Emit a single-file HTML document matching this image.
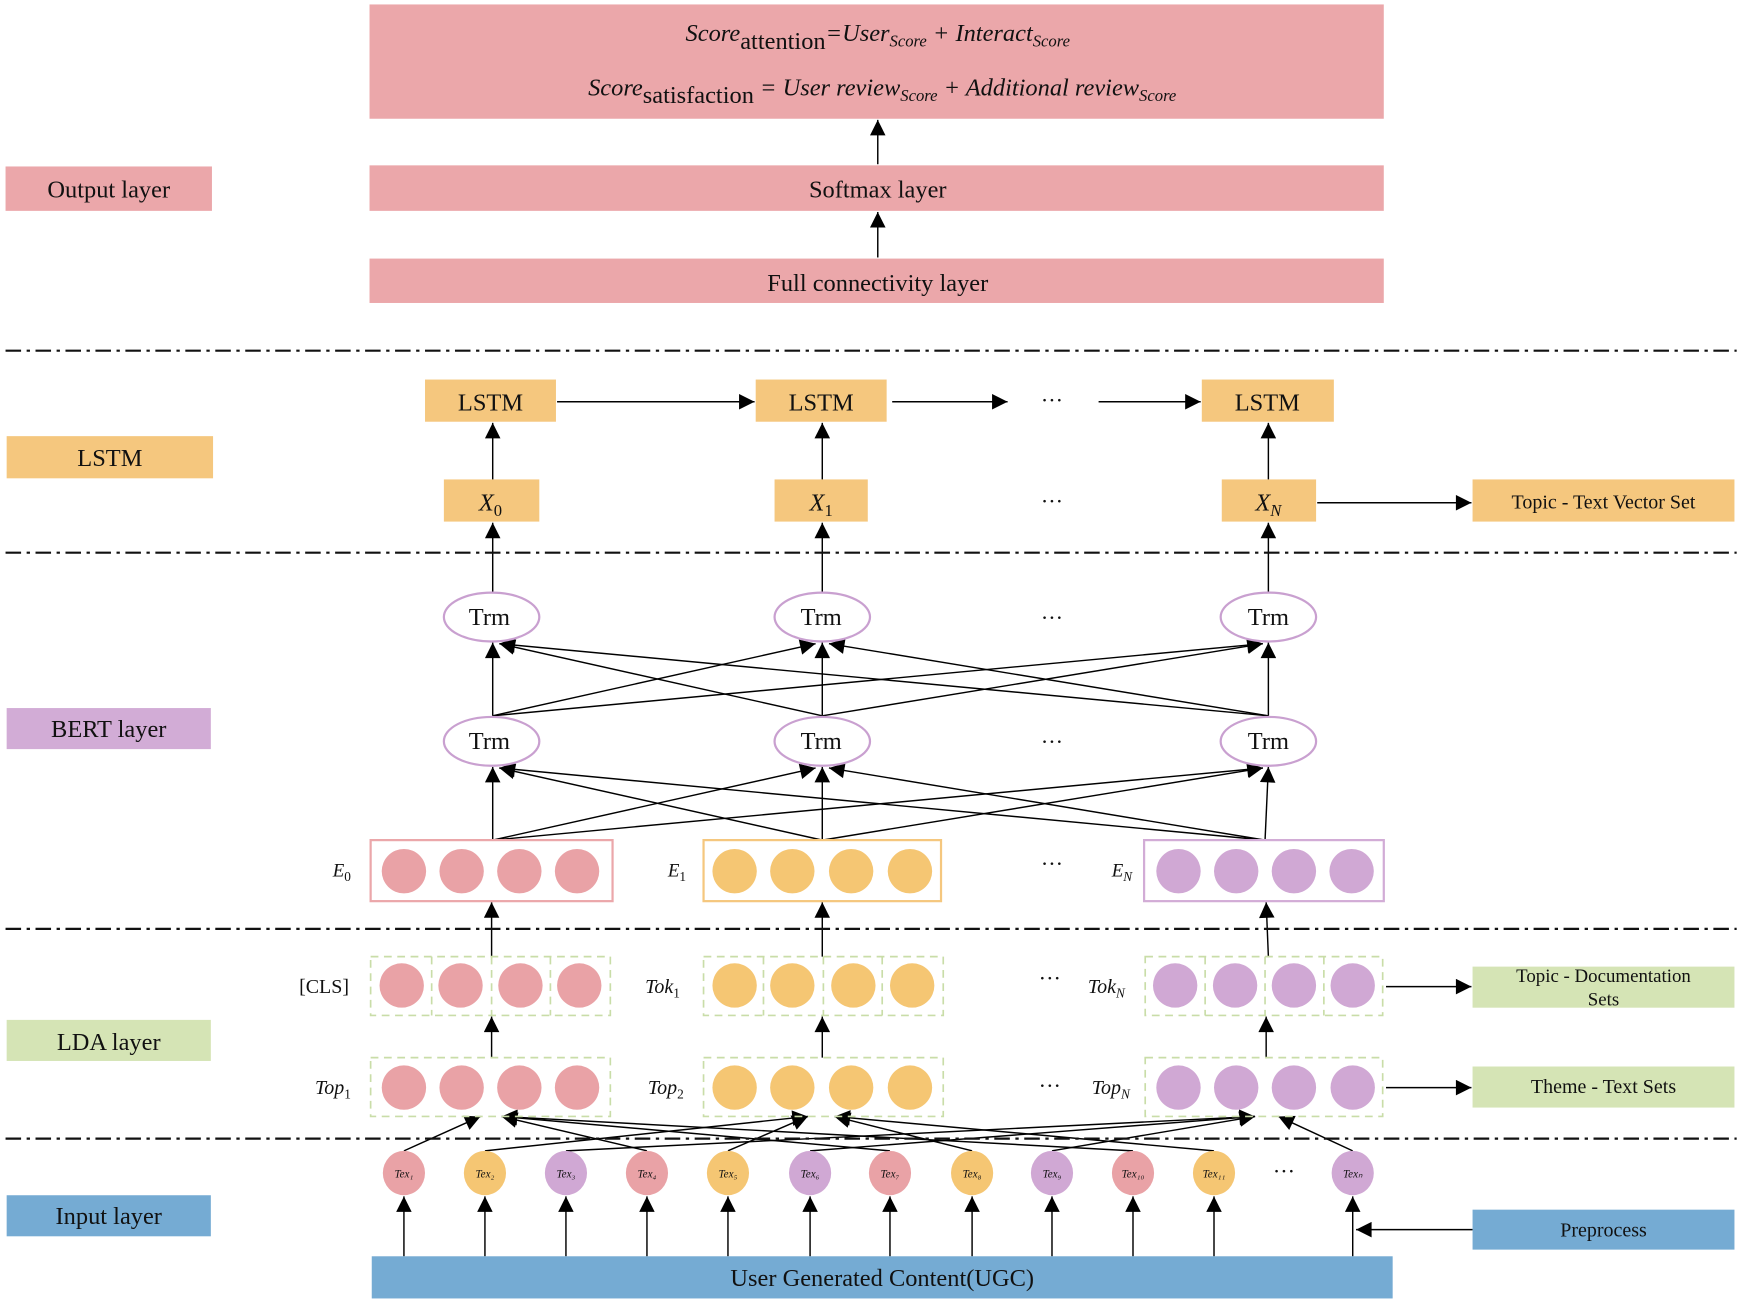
<!DOCTYPE html>
<html><head><meta charset="utf-8"><style>
html,body{margin:0;padding:0;background:#fff;}
svg{display:block;}
text{font-family:"Liberation Serif",serif;fill:#111;}
</style></head><body>
<svg width="1740" height="1304" viewBox="0 0 1568 1175" preserveAspectRatio="none" xmlns="http://www.w3.org/2000/svg">
<defs>
<marker id="a" viewBox="0 0 10 10" refX="10" refY="5" markerWidth="7" markerHeight="7" markerUnits="userSpaceOnUse" orient="auto"><path d="M0,0 L10,5 L0,10 z" fill="#000"/></marker>
<marker id="b" viewBox="0 0 10 10" refX="10" refY="5" markerWidth="18" markerHeight="14" markerUnits="userSpaceOnUse" orient="auto"><path d="M0,0 L10,5 L0,10 z" fill="#000"/></marker>
</defs>
<g stroke="#000" stroke-width="1.3" fill="none" marker-end="url(#b)">
<!-- output arrows -->
<line x1="791" y1="148" x2="791" y2="108"/>
<line x1="791" y1="232" x2="791" y2="191"/>
<!-- LSTM horizontal -->
<line x1="502" y1="362" x2="680" y2="362"/>
<line x1="804" y1="362" x2="908" y2="362"/>
<line x1="990" y1="362" x2="1082" y2="362"/>
<line x1="444" y1="432" x2="444" y2="381"/>
<line x1="741" y1="432" x2="741" y2="381"/>
<line x1="1143" y1="432" x2="1143" y2="381"/>
<line x1="1187" y1="453" x2="1326" y2="453"/>
<line x1="444" y1="534" x2="444" y2="471"/>
<line x1="741" y1="534" x2="741" y2="471"/>
<line x1="1143" y1="534" x2="1143" y2="471"/>
<!-- Trm cross row 1 -->
<line x1="444" y1="645" x2="444" y2="579"/>
<line x1="444" y1="645" x2="735" y2="580"/>
<line x1="444" y1="645" x2="1138" y2="580"/>
<line x1="741" y1="645" x2="741" y2="579"/>
<line x1="741" y1="645" x2="450" y2="580"/>
<line x1="741" y1="645" x2="1138" y2="580"/>
<line x1="1143" y1="645" x2="1143" y2="579"/>
<line x1="1143" y1="645" x2="450" y2="580"/>
<line x1="1143" y1="645" x2="747" y2="580"/>
<!-- E to Trm row 2 -->
<line x1="444" y1="757" x2="444" y2="691"/>
<line x1="444" y1="757" x2="735" y2="692"/>
<line x1="444" y1="757" x2="1138" y2="692"/>
<line x1="741" y1="757" x2="741" y2="691"/>
<line x1="741" y1="757" x2="450" y2="692"/>
<line x1="741" y1="757" x2="1138" y2="692"/>
<line x1="1140" y1="757" x2="1143" y2="691"/>
<line x1="1140" y1="757" x2="450" y2="692"/>
<line x1="1140" y1="757" x2="747" y2="692"/>
<!-- Tok to E -->
<line x1="443" y1="862" x2="443" y2="813"/>
<line x1="741" y1="862" x2="741" y2="813"/>
<line x1="1143" y1="862" x2="1141" y2="813"/>
<line x1="1249" y1="889" x2="1326" y2="889"/>
<line x1="443" y1="953" x2="443" y2="916"/>
<line x1="741" y1="953" x2="741" y2="916"/>
<line x1="1141" y1="953" x2="1141" y2="916"/>
<line x1="1249" y1="980" x2="1326" y2="980"/>
<!-- Tex to Top -->
<line x1="364" y1="1037" x2="433" y2="1006"/>
<line x1="437" y1="1037" x2="728" y2="1006"/>
<line x1="510" y1="1037" x2="1131" y2="1006"/>
<line x1="583" y1="1037" x2="452" y2="1006"/>
<line x1="656" y1="1037" x2="728" y2="1006"/>
<line x1="730" y1="1037" x2="1131" y2="1006"/>
<line x1="802" y1="1037" x2="452" y2="1006"/>
<line x1="876" y1="1037" x2="752" y2="1006"/>
<line x1="948" y1="1037" x2="1131" y2="1006"/>
<line x1="1021" y1="1037" x2="452" y2="1006"/>
<line x1="1094" y1="1037" x2="752" y2="1006"/>
<line x1="1219" y1="1037" x2="1152" y2="1006"/>
<!-- UGC to Tex -->
<line x1="364" y1="1132" x2="364" y2="1078"/>
<line x1="437" y1="1132" x2="437" y2="1078"/>
<line x1="510" y1="1132" x2="510" y2="1078"/>
<line x1="583" y1="1132" x2="583" y2="1078"/>
<line x1="656" y1="1132" x2="656" y2="1078"/>
<line x1="730" y1="1132" x2="730" y2="1078"/>
<line x1="802" y1="1132" x2="802" y2="1078"/>
<line x1="876" y1="1132" x2="876" y2="1078"/>
<line x1="948" y1="1132" x2="948" y2="1078"/>
<line x1="1021" y1="1132" x2="1021" y2="1078"/>
<line x1="1094" y1="1132" x2="1094" y2="1078"/>
<line x1="1219" y1="1132" x2="1219" y2="1078"/>
<line x1="1327" y1="1108" x2="1222" y2="1108"/>
</g>
<!-- dash-dot lines -->
<g stroke="#111" stroke-width="2" stroke-dasharray="14,5,3,5">
<line x1="5" y1="316" x2="1565" y2="316"/>
<line x1="5" y1="498" x2="1565" y2="498"/>
<line x1="5" y1="837" x2="1565" y2="837"/>
<line x1="5" y1="1026" x2="1565" y2="1026"/>
</g>
<!-- output boxes -->
<rect x="333" y="4" width="914" height="103" fill="#EBA7AA"/>
<rect x="333" y="149" width="914" height="41" fill="#EBA7AA"/>
<rect x="333" y="233" width="914" height="40" fill="#EBA7AA"/>
<text x="791" y="37" text-anchor="middle" font-size="22" font-style="italic">Score<tspan font-style="normal" dy="7">attention</tspan><tspan dy="-7">=User</tspan><tspan font-size="15" dy="5">Score</tspan><tspan dy="-5"> + Interact</tspan><tspan font-size="15" dy="5">Score</tspan></text>
<text x="795" y="86" text-anchor="middle" font-size="22" font-style="italic">Score<tspan font-style="normal" dy="7">satisfaction</tspan><tspan dy="-7"> = User review</tspan><tspan font-size="15" dy="5">Score</tspan><tspan dy="-5"> + Additional review</tspan><tspan font-size="15" dy="5">Score</tspan></text>
<text x="791" y="178" text-anchor="middle" font-size="22">Softmax layer</text>
<text x="791" y="262" text-anchor="middle" font-size="22">Full connectivity layer</text>
<!-- side labels -->
<rect x="5" y="150" width="186" height="40" fill="#EBA7AA"/><text x="98" y="178" text-anchor="middle" font-size="22">Output layer</text>
<rect x="6" y="393" width="186" height="38" fill="#F5C77E"/><text x="99" y="420" text-anchor="middle" font-size="22">LSTM</text>
<rect x="6" y="638" width="184" height="37" fill="#D2ACD6"/><text x="98" y="664" text-anchor="middle" font-size="22">BERT layer</text>
<rect x="6" y="919" width="184" height="37" fill="#D5E4B5"/><text x="98" y="946" text-anchor="middle" font-size="22">LDA layer</text>
<rect x="6" y="1077" width="184" height="37" fill="#75ABD3"/><text x="98" y="1103" text-anchor="middle" font-size="22">Input layer</text>
<!-- LSTM boxes -->
<g fill="#F5C77E">
<rect x="383" y="342" width="118" height="38"/><rect x="681" y="342" width="118" height="38"/><rect x="1083" y="342" width="119" height="38"/>
<rect x="400" y="432" width="86" height="38"/><rect x="698" y="432" width="84" height="38"/><rect x="1101" y="432" width="85" height="38"/>
</g>
<text x="442" y="370" text-anchor="middle" font-size="22">LSTM</text>
<text x="740" y="370" text-anchor="middle" font-size="22">LSTM</text>
<text x="1142" y="370" text-anchor="middle" font-size="22">LSTM</text>
<text x="948" y="367" text-anchor="middle" font-size="20">···</text>
<text x="442" y="460" text-anchor="middle" font-size="22" font-style="italic">X<tspan font-size="15" dy="5" font-style="normal">0</tspan></text>
<text x="740" y="460" text-anchor="middle" font-size="22" font-style="italic">X<tspan font-size="15" dy="5" font-style="normal">1</tspan></text>
<text x="1143" y="460" text-anchor="middle" font-size="22" font-style="italic">X<tspan font-size="15" dy="5">N</tspan></text>
<text x="948" y="458" text-anchor="middle" font-size="20">···</text>
<rect x="1327" y="432" width="236" height="38" fill="#F5C77E"/>
<text x="1445" y="458" text-anchor="middle" font-size="18">Topic - Text Vector Set</text>
<!-- Trm -->
<g fill="#fff" stroke="#C9A0D0" stroke-width="2">
<ellipse cx="443" cy="556" rx="43" ry="22"/><ellipse cx="741" cy="556" rx="43" ry="22"/><ellipse cx="1143" cy="556" rx="43" ry="22"/>
<ellipse cx="443" cy="668" rx="43" ry="22"/><ellipse cx="741" cy="668" rx="43" ry="22"/><ellipse cx="1143" cy="668" rx="43" ry="22"/>
</g>
<g font-size="22" text-anchor="middle">
<text x="441" y="563">Trm</text><text x="740" y="563">Trm</text><text x="1143" y="563">Trm</text>
<text x="441" y="675">Trm</text><text x="740" y="675">Trm</text><text x="1143" y="675">Trm</text>
<text x="948" y="563" font-size="20">···</text><text x="948" y="675" font-size="20">···</text>
<text x="948" y="785" font-size="20">···</text>
</g>
<!-- E boxes -->
<rect x="334" y="757" width="218" height="55" fill="#fff" stroke="#EBA7AA" stroke-width="2"/>
<rect x="634" y="757" width="214" height="55" fill="#fff" stroke="#F5C77E" stroke-width="2"/>
<rect x="1031" y="757" width="216" height="55" fill="#fff" stroke="#D2ACD6" stroke-width="2"/>
<g>
<g fill="#E9A2A6"><circle cx="364" cy="785" r="20"/><circle cx="416" cy="785" r="20"/><circle cx="468" cy="785" r="20"/><circle cx="520" cy="785" r="20"/></g>
<g fill="#F5C673"><circle cx="662" cy="785" r="20"/><circle cx="714" cy="785" r="20"/><circle cx="767" cy="785" r="20"/><circle cx="820" cy="785" r="20"/></g>
<g fill="#D0A8D4"><circle cx="1062" cy="785" r="20"/><circle cx="1114" cy="785" r="20"/><circle cx="1166" cy="785" r="20"/><circle cx="1218" cy="785" r="20"/></g>
</g>
<g font-size="17" font-style="italic" text-anchor="middle">
<text x="308" y="790">E<tspan font-size="12" dy="4" font-style="normal">0</tspan></text>
<text x="610" y="790">E<tspan font-size="12" dy="4" font-style="normal">1</tspan></text>
<text x="1011" y="790">E<tspan font-size="12" dy="4">N</tspan></text>
</g>
<!-- Tok and Top rows -->
<g fill="none" stroke="#C9DDA8" stroke-width="1.5" stroke-dasharray="7,5">
<rect x="334" y="862" width="216" height="53"/><rect x="634" y="862" width="216" height="53"/><rect x="1032" y="862" width="214" height="53"/>
<line x1="389" y1="862" x2="389" y2="915"/><line x1="443" y1="862" x2="443" y2="915"/><line x1="496" y1="862" x2="496" y2="915"/>
<line x1="688" y1="862" x2="688" y2="915"/><line x1="742" y1="862" x2="742" y2="915"/><line x1="795" y1="862" x2="795" y2="915"/>
<line x1="1086" y1="862" x2="1086" y2="915"/><line x1="1140" y1="862" x2="1140" y2="915"/><line x1="1193" y1="862" x2="1193" y2="915"/>
<rect x="334" y="953" width="216" height="53"/><rect x="634" y="953" width="216" height="53"/><rect x="1032" y="953" width="214" height="53"/>
</g>
<g fill="#E9A2A6"><circle cx="362" cy="888" r="20"/><circle cx="415" cy="888" r="20"/><circle cx="469" cy="888" r="20"/><circle cx="522" cy="888" r="20"/>
<circle cx="364" cy="980" r="20"/><circle cx="416" cy="980" r="20"/><circle cx="468" cy="980" r="20"/><circle cx="520" cy="980" r="20"/></g>
<g fill="#F5C673"><circle cx="662" cy="888" r="20"/><circle cx="714" cy="888" r="20"/><circle cx="769" cy="888" r="20"/><circle cx="822" cy="888" r="20"/>
<circle cx="662" cy="980" r="20"/><circle cx="714" cy="980" r="20"/><circle cx="767" cy="980" r="20"/><circle cx="820" cy="980" r="20"/></g>
<g fill="#D0A8D4"><circle cx="1059" cy="888" r="20"/><circle cx="1113" cy="888" r="20"/><circle cx="1166" cy="888" r="20"/><circle cx="1219" cy="888" r="20"/>
<circle cx="1062" cy="980" r="20"/><circle cx="1114" cy="980" r="20"/><circle cx="1166" cy="980" r="20"/><circle cx="1219" cy="980" r="20"/></g>
<g font-size="18" text-anchor="middle">
<text x="292" y="895" fill="#333">[CLS]</text>
<text x="597" y="895" font-style="italic">Tok<tspan font-size="12" dy="4" font-style="normal">1</tspan></text>
<text x="997" y="895" font-style="italic">Tok<tspan font-size="12" dy="4">N</tspan></text>
<text x="300" y="986" font-style="italic">Top<tspan font-size="12" dy="4" font-style="normal">1</tspan></text>
<text x="600" y="986" font-style="italic">Top<tspan font-size="12" dy="4" font-style="normal">2</tspan></text>
<text x="1001" y="986" font-style="italic">Top<tspan font-size="12" dy="4">N</tspan></text>
<text x="946" y="888" font-size="20">···</text>
<text x="946" y="985" font-size="20">···</text>
</g>
<rect x="1327" y="871" width="236" height="37" fill="#D5E4B5"/>
<text x="1445" y="885" text-anchor="middle" font-size="17">Topic - Documentation</text>
<text x="1445" y="906" text-anchor="middle" font-size="17">Sets</text>
<rect x="1327" y="961" width="236" height="37" fill="#D5E4B5"/>
<text x="1445" y="985" text-anchor="middle" font-size="18">Theme - Text Sets</text>
<!-- Tex circles -->
<g>
<ellipse cx="364" cy="1057" rx="19" ry="20" fill="#E9A2A6"/>
<ellipse cx="437" cy="1057" rx="19" ry="20" fill="#F5C673"/>
<ellipse cx="510" cy="1057" rx="19" ry="20" fill="#D0A8D4"/>
<ellipse cx="583" cy="1057" rx="19" ry="20" fill="#E9A2A6"/>
<ellipse cx="656" cy="1057" rx="19" ry="20" fill="#F5C673"/>
<ellipse cx="730" cy="1057" rx="19" ry="20" fill="#D0A8D4"/>
<ellipse cx="802" cy="1057" rx="19" ry="20" fill="#E9A2A6"/>
<ellipse cx="876" cy="1057" rx="19" ry="20" fill="#F5C673"/>
<ellipse cx="948" cy="1057" rx="19" ry="20" fill="#D0A8D4"/>
<ellipse cx="1021" cy="1057" rx="19" ry="20" fill="#E9A2A6"/>
<ellipse cx="1094" cy="1057" rx="19" ry="20" fill="#F5C673"/>
<ellipse cx="1219" cy="1057" rx="19" ry="20" fill="#D0A8D4"/>
</g>
<g font-size="10" font-style="italic" text-anchor="middle" fill="#444">
<text x="364" y="1061">Tex₁</text><text x="437" y="1061">Tex₂</text><text x="510" y="1061">Tex₃</text><text x="583" y="1061">Tex₄</text>
<text x="656" y="1061">Tex₅</text><text x="730" y="1061">Tex₆</text><text x="802" y="1061">Tex₇</text><text x="876" y="1061">Tex₈</text>
<text x="948" y="1061">Tex₉</text><text x="1021" y="1061">Tex₁₀</text><text x="1094" y="1061">Tex₁₁</text><text x="1219" y="1061">Texₙ</text>
</g>
<text x="1157" y="1062" text-anchor="middle" font-size="20">···</text>
<rect x="335" y="1132" width="920" height="38" fill="#75ABD3"/>
<text x="795" y="1159" text-anchor="middle" font-size="22">User Generated Content(UGC)</text>
<rect x="1327" y="1090" width="236" height="36" fill="#75ABD3"/>
<text x="1445" y="1114" text-anchor="middle" font-size="18">Preprocess</text>
</svg>
</body></html>
